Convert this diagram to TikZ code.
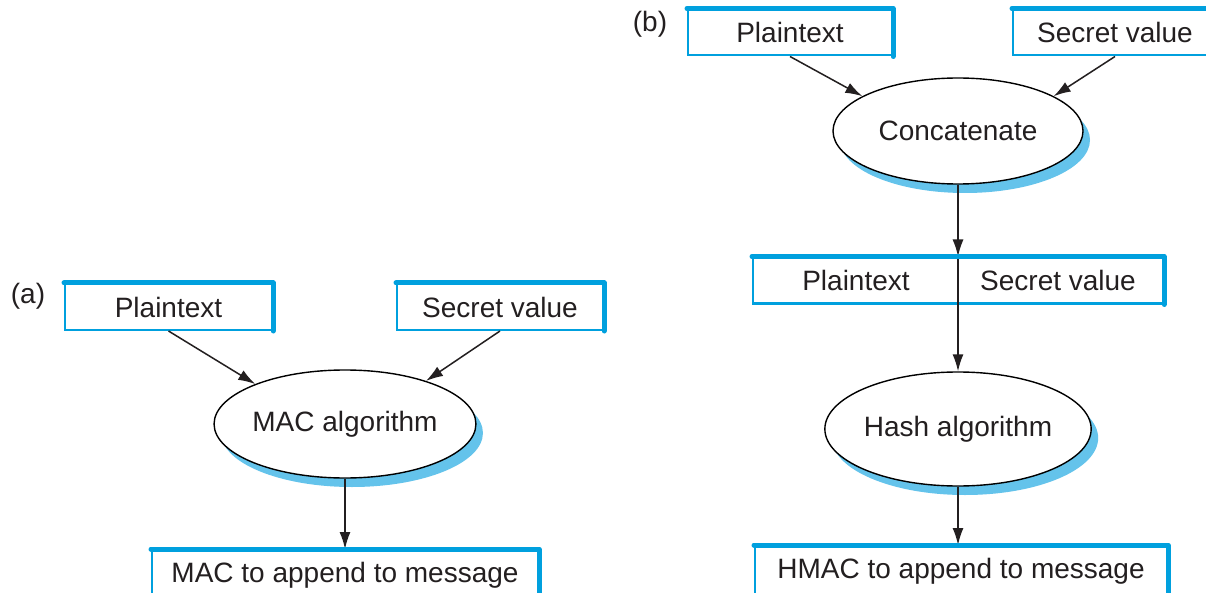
\documentclass[tikz,border=0pt]{standalone}
\usepackage{fontspec}
\setmainfont{Liberation Sans}
\usetikzlibrary{shapes.geometric,shadows,arrows.meta}
\definecolor{boxblue}{RGB}{0,160,222}
\definecolor{shadowblue}{RGB}{100,195,235}
\definecolor{inkgray}{RGB}{35,31,32}
\begin{document}
\begin{tikzpicture}[x=1pt,y=-1pt,
  every node/.style={font=\fontsize{28}{34}\selectfont, text=inkgray},
  databox/.style={draw=boxblue, line width=2pt, fill=white, minimum height=46pt, inner sep=0pt},
  thickedge/.style={draw=boxblue, line width=5pt, line cap=round, line join=round},
  procell/.style={ellipse, draw=black, line width=1.4pt, fill=white, inner sep=0pt,
    drop shadow={shadow xshift=7pt, shadow yshift=-9pt, fill=shadowblue, opacity=1}},
  flow/.style={draw=inkgray, line width=1.5pt, -{Latex[length=17pt,width=11pt]}},
  tag/.style={font=\fontsize{28}{32}\selectfont}
]
\useasboundingbox (0,0) rectangle (1206,593);
\clip (0,0) rectangle (1206,593);
\fill[white] (0,0) rectangle (1206,593);

% ---------- (a) ----------
\node[tag] (la) at (28,296) {(a)};
\node[databox, minimum width=207pt] (pa) at (168.5,307) {Plaintext};
\node[databox, minimum width=206pt] (sa) at (500,307) {Secret value};
\node[procell, minimum width=246pt, minimum height=108pt] (mac) at (345,424) {MAC algorithm};
\node[databox, minimum width=386pt, minimum height=50pt] (maco) at (345,575) {MAC to append to message};

\draw[flow] (pa.south) -- (mac.156);
\draw[flow] (sa.south) -- (mac.28);
\draw[flow] (mac.south) -- (maco.north);

% ---------- (b) ----------
\node[tag] (lb) at (650,24) {(b)};
\node[databox, minimum width=204pt] (pb) at (790,32.5) {Plaintext};
\node[databox, minimum width=204pt] (sb) at (1115,32.5) {Secret value};
\node[procell, minimum width=250pt, minimum height=106pt] (cat) at (958,131) {Concatenate};
\node[databox, minimum width=410pt] (both) at (958,280.5) {};
\node (bothp) at (856,280.5) {Plaintext};
\node (boths) at (1058,280.5) {Secret value};
\node[procell, minimum width=248pt, minimum height=114pt] (hash) at (958,429) {Hash algorithm};
\node[databox, minimum width=412pt, minimum height=50pt] (hmo) at (961,571) {HMAC to append to message};

\draw[flow] (pb.south) -- (cat.160);
\draw[flow] (sb.south) -- (cat.20);
\draw[flow] (cat.south) -- (both.north);
\draw[flow] (both.north) -- (hash.north);
\draw[flow] (hash.south) -- (hmo.north -| hash.south);

% thick top and right edges of the boxes
\foreach \b in {pa,sa,maco,pb,sb,both,hmo}
  \draw[thickedge] (\b.north west) -- (\b.north east) -- (\b.south east);
\end{tikzpicture}
\end{document}
